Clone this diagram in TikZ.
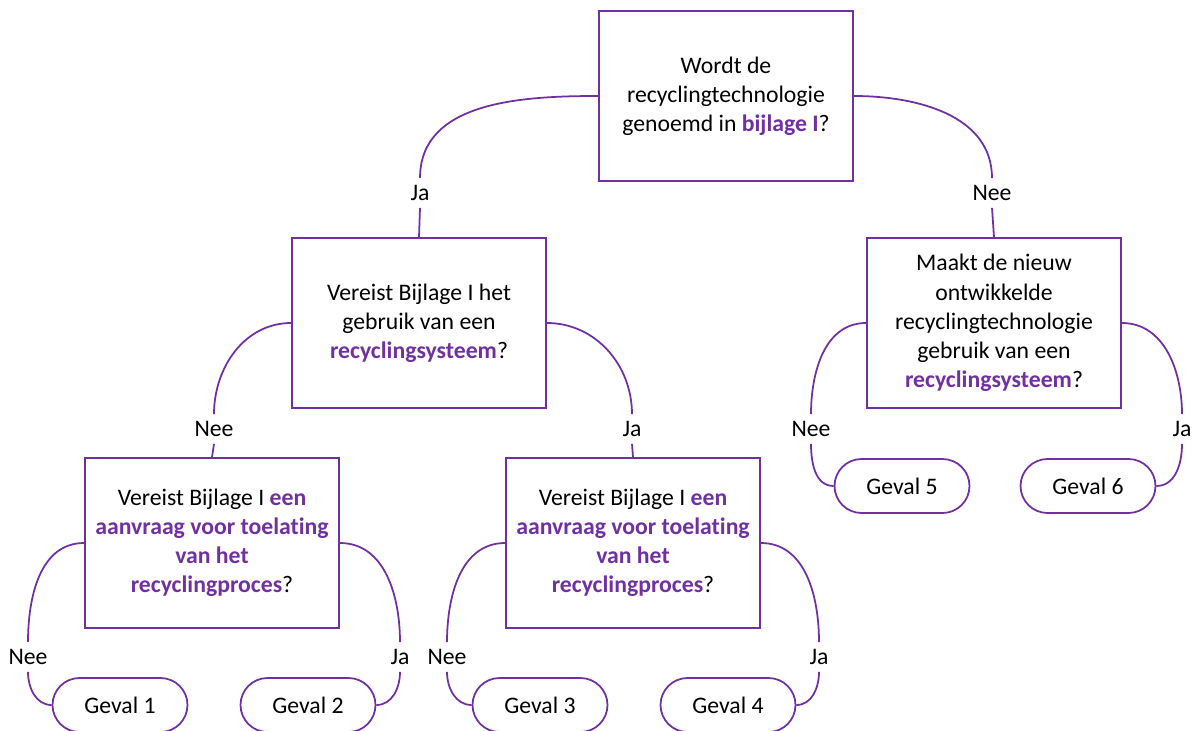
\documentclass[tikz,border=0pt]{standalone}
\usepackage{fontspec}
\setmainfont[Ligatures=NoCommon]{Carlito}
\usepackage{tikz}

\definecolor{paars}{HTML}{7030A0}
\newcommand{\hl}[1]{\textbf{\color{paars}#1}}

\begin{document}
\begin{tikzpicture}[x=0.02cm, y=-0.02cm,
    font=\fontsize{13.5}{16.6}\selectfont,
    vraag/.style={draw=paars, line width=1pt, align=center,
        minimum width=5.08cm, minimum height=3.4cm, inner sep=0pt},
    geval/.style={draw=paars, line width=1pt, rounded corners=0.54cm,
        minimum width=2.7cm, minimum height=1.08cm, inner sep=0pt},
    keuze/.style={inner sep=0pt, minimum height=0.58cm},
    link/.style={draw=paars, line width=1pt}]
    \useasboundingbox (0,0) rectangle (1196,730);

    % Questions
    \node[vraag] (qTop) at (726,96) {Wordt de\\recyclingtechnologie\\genoemd in \hl{bijlage I}?};
    \node[vraag] (qLeft) at (419,323) {Vereist Bijlage I het\\gebruik van een\\\hl{recyclingsysteem}?};
    \node[vraag] (qRight) at (994,323) {Maakt de nieuw\\ontwikkelde\\recyclingtechnologie\\gebruik van een\\\hl{recyclingsysteem}?};
    \node[vraag] (qLL) at (212,543) {Vereist Bijlage I \hl{een}\\\hl{aanvraag voor toelating}\\\hl{van het}\\\hl{recyclingproces}?};
    \node[vraag] (qLR) at (633,543) {Vereist Bijlage I \hl{een}\\\hl{aanvraag voor toelating}\\\hl{van het}\\\hl{recyclingproces}?};

    % Cases
    \node[geval] (geval1) at (120,705) {Geval 1};
    \node[geval] (geval2) at (308,705) {Geval 2};
    \node[geval] (geval3) at (540,705) {Geval 3};
    \node[geval] (geval4) at (728,705) {Geval 4};
    \node[geval] (geval5) at (902,486) {Geval 5};
    \node[geval] (geval6) at (1088,486) {Geval 6};

    % Answers
    \node[keuze] (ja1) at (420,193) {Ja};
    \node[keuze] (nee1) at (992,193) {Nee};
    \node[keuze] (nee2) at (214,429) {Nee};
    \node[keuze] (ja2) at (632,429) {Ja};
    \node[keuze] (nee5) at (811,429) {Nee};
    \node[keuze] (ja5) at (1182,429) {Ja};
    \node[keuze] (nee3) at (28,657) {Nee};
    \node[keuze] (ja3) at (400,657) {Ja};
    \node[keuze] (nee4) at (447,657) {Nee};
    \node[keuze] (ja4) at (819,657) {Ja};

    % Top level
    \draw[link] (qTop.west) to[out=180, in=90] (ja1.north);
    \draw[link] (ja1.south) -- (qLeft.north);
    \draw[link] (qTop.east) to[out=0, in=90] (nee1.north);
    \draw[link] (nee1.south) -- (qRight.north);

    % Second level
    \draw[link] (qLeft.west) to[out=180, in=90] (nee2.north);
    \draw[link] (nee2.south) -- (qLL.north);
    \draw[link] (qLeft.east) to[out=0, in=90] (ja2.north);
    \draw[link] (ja2.south) -- (qLR.north);
    \draw[link] (qRight.west) to[out=180, in=90] (nee5.north);
    \draw[link] (nee5.south) to[out=-90, in=180] (geval5.west);
    \draw[link] (qRight.east) to[out=0, in=90] (ja5.north);
    \draw[link] (ja5.south) to[out=-90, in=0] (geval6.east);

    % Third level
    \draw[link] (qLL.west) to[out=180, in=90] (nee3.north);
    \draw[link] (nee3.south) to[out=-90, in=180] (geval1.west);
    \draw[link] (qLL.east) to[out=0, in=90] (ja3.north);
    \draw[link] (ja3.south) to[out=-90, in=0] (geval2.east);
    \draw[link] (qLR.west) to[out=180, in=90] (nee4.north);
    \draw[link] (nee4.south) to[out=-90, in=180] (geval3.west);
    \draw[link] (qLR.east) to[out=0, in=90] (ja4.north);
    \draw[link] (ja4.south) to[out=-90, in=0] (geval4.east);
\end{tikzpicture}
\end{document}
